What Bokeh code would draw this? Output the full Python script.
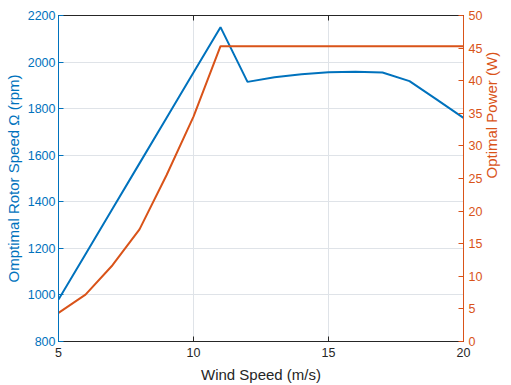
import math
from bokeh.plotting import figure
from bokeh.models import Range1d, LinearAxis, FixedTicker
from bokeh.embed import file_html
from bokeh.resources import INLINE

wind = [5, 6, 7, 8, 9, 10, 11, 12, 13, 14, 15, 16, 17, 18, 19, 20]
rpm = [980, 1175, 1370, 1565, 1760, 1955, 2150, 1915, 1935, 1948, 1956, 1958, 1955, 1918, 1840, 1760]
power = [4.4, 7.2, 11.7, 17.2, 25.5, 34.5, 45.3, 45.3, 45.3, 45.3, 45.3, 45.3, 45.3, 45.3, 45.3, 45.3]

x_ticks = [5, 10, 15, 20]
rpm_ticks = [800, 1000, 1200, 1400, 1600, 1800, 2000, 2200]
power_ticks = [0, 5, 10, 15, 20, 25, 30, 35, 40, 45, 50]

BLUE = "#0072BD"
ORANGE = "#D95319"
DARK = "#262626"
FONT = "Liberation Sans"
W, H = 511, 385

p = figure(width=W, height=H, output_backend="svg", toolbar_location=None,
           x_range=Range1d(5, 20), y_range=Range1d(800, 2200),
           min_border_left=58, min_border_right=39, min_border_top=15, min_border_bottom=42)
p.extra_y_ranges = {"pw": Range1d(0, 50)}

p.outline_line_color = DARK
p.outline_line_width = 1
p.background_fill_color = "white"
p.border_fill_color = "white"

# grid
p.xgrid.ticker = FixedTicker(ticks=x_ticks)
p.ygrid.ticker = FixedTicker(ticks=rpm_ticks)
for g in (p.xgrid, p.ygrid):
    g.grid_line_color = "#dfe3e8"
    g.grid_line_width = 1

# x axis
xa = p.xaxis[0]
xa.ticker = FixedTicker(ticks=x_ticks)
xa.axis_label = "Wind Speed (m/s)"
xa.axis_line_color = DARK
xa.major_tick_line_color = DARK
xa.major_tick_in = 5
xa.major_tick_out = 0
xa.minor_tick_line_color = None
xa.major_label_text_color = DARK
xa.major_label_text_font = FONT
xa.major_label_text_font_size = "12.5px"
xa.major_label_standoff = 6
xa.axis_label_text_font = FONT
xa.axis_label_text_font_size = "15px"
xa.axis_label_text_font_style = "normal"
xa.axis_label_text_color = DARK
xa.axis_label_standoff = 6

# left axis
ya = p.yaxis[0]
ya.ticker = FixedTicker(ticks=rpm_ticks)
ya.axis_label = "Omptimal Rotor Speed \u03a9 (rpm)"
ya.axis_line_color = BLUE
ya.major_tick_line_color = BLUE
ya.major_tick_in = 5
ya.major_tick_out = 0
ya.minor_tick_line_color = None
ya.major_label_text_color = BLUE
ya.major_label_text_font = FONT
ya.major_label_text_font_size = "12.5px"
ya.major_label_standoff = 3
ya.axis_label_text_font = FONT
ya.axis_label_text_font_size = "15px"
ya.axis_label_text_font_style = "normal"
ya.axis_label_text_color = BLUE
ya.axis_label_standoff = 3

# right axis (title reads bottom to top, as in the reference)
ra = LinearAxis(y_range_name="pw", ticker=FixedTicker(ticks=power_ticks))
ra.axis_label = "Optimal Power (W)"
ra.axis_label_orientation = math.pi / 2
ra.axis_line_color = ORANGE
ra.major_tick_line_color = ORANGE
ra.major_tick_in = 5
ra.major_tick_out = 0
ra.minor_tick_line_color = None
ra.major_label_text_color = ORANGE
ra.major_label_text_font = FONT
ra.major_label_text_font_size = "12.5px"
ra.major_label_standoff = 5
ra.axis_label_text_font = FONT
ra.axis_label_text_font_size = "15px"
ra.axis_label_text_font_style = "normal"
ra.axis_label_text_color = ORANGE
ra.axis_label_standoff = 6
p.add_layout(ra, "right")

# top axis ticks (box style)
ta = LinearAxis(ticker=FixedTicker(ticks=x_ticks))
ta.axis_line_color = DARK
ta.major_tick_line_color = DARK
ta.major_tick_in = 5
ta.major_tick_out = 0
ta.minor_tick_line_color = None
ta.major_label_text_font_size = "0px"
ta.major_label_text_color = None
ta.major_label_standoff = 0
p.add_layout(ta, "above")

p.line(wind, rpm, line_color=BLUE, line_width=2)
p.line(wind, power, line_color=ORANGE, line_width=2, y_range_name="pw")

open("out.html", "w").write(file_html(p, INLINE))
